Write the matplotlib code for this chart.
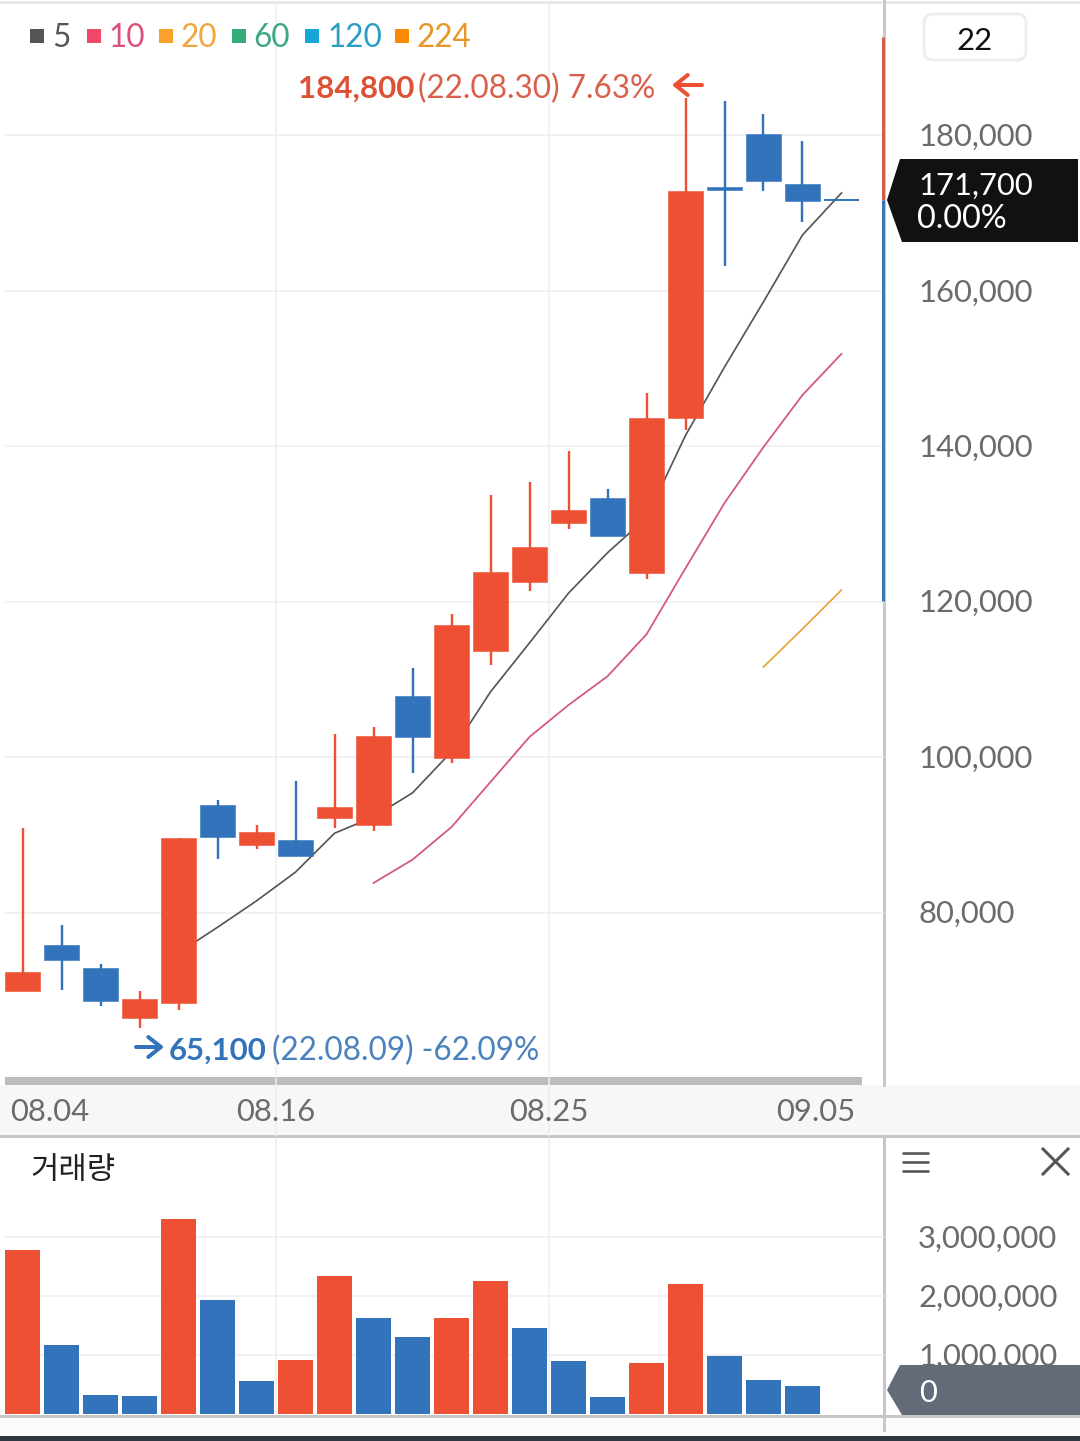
import matplotlib
matplotlib.use("Agg")
import matplotlib.pyplot as plt
from matplotlib.patches import Polygon, FancyBboxPatch, Rectangle
from matplotlib.transforms import ScaledTranslation

plt.rcParams['font.family'] = ['Lato', 'DejaVu Sans']

# candles
opens = [69900, 75800, 72900, 66400, 68400, 93800, 88700, 89300, 92200, 91300, 107900,
         99900, 113700, 122500, 130100, 133300, 123700, 143600, 173400, 180200, 173800, 171700]
closes = [72300, 73900, 68600, 68900, 89600, 89700, 90400, 87300, 93600, 102700, 102600,
          117000, 123800, 127000, 131800, 128500, 143600, 172900, 173000, 174100, 171600, 171700]
highs = [90900, 78400, 73400, 69900, 89600, 94500, 91300, 96900, 103000, 103900, 111500,
         118400, 133700, 135400, 139400, 134500, 146900, 184800, 184500, 182800, 179300, 171700]
lows = [69900, 70000, 68000, 65100, 67500, 86900, 88200, 87300, 90900, 90500, 98000,
        99200, 111900, 121400, 129400, 128500, 122900, 142100, 163200, 172900, 168900, 171700]

# moving averages, first index is where each line starts
ma5 = [74800, 78100, 81500, 85200, 90200, 92300, 95400, 100700, 108400, 114700, 121100,
       126300, 130800, 141400, 150200, 158600, 167200, 172600]
ma5_start = 4
ma10 = [83800, 86800, 91000, 96800, 102600, 106700, 110400, 115800, 124300, 132700,
        139900, 146600, 151900]
ma10_start = 9
ma20 = [111600, 116500, 121500]
ma20_start = 19

# volume per candle, volume_up says whether the bar is red
volumes = [2780000, 1170000, 320000, 305000, 3305000, 1930000, 560000, 915000, 2340000, 1630000, 1300000,
           1630000, 2250000, 1460000, 900000, 290000, 865000, 2200000, 980000, 575000, 475000]
volume_up = [1, 0, 0, 0, 1, 0, 0, 1, 1, 0, 0, 1, 1, 0, 0, 0, 1, 1, 0, 0, 0]

price_ticks = [80000, 100000, 120000, 140000, 160000, 180000]
volume_ticks = [1000000, 2000000, 3000000]
date_labels = ["08.16", "08.25"]
date_pos = [6.5, 13.5]
edge_labels = ["08.04", "09.05"]
edge_pos = [0.7, 20.34]

legend_names = ["5", "10", "20", "60", "120", "224"]
legend_square = ["#555555", "#f0476a", "#f9a32c", "#35ab78", "#15a8d6", "#fb8a05"]
legend_text = ["#555555", "#d9527a", "#f0a63c", "#3ca882", "#2a9fc4", "#e8952a"]

RED = "#ee5033"
BLUE = "#3373bb"
GRID = "#efefef"
LABEL = "#6b6b6b"
W, H = 1080, 1441
PT = 0.72  # one pixel in points at dpi 100
FS = 22.3
NOTE_FS = 22.7
ARROW = "->,head_length=0.45,head_width=0.36"


def add_axes(fig, left, top, right, bottom, zorder):
    ax = fig.add_axes([left / W, 1 - bottom / H, (right - left) / W, (bottom - top) / H])
    ax.set_zorder(zorder)
    ax.patch.set_alpha(0)
    return ax


fig = plt.figure(figsize=(W / 100, H / 100), dpi=100, facecolor="white")
up_1px = ScaledTranslation(0, 1 / 100, fig.dpi_scale_trans)

# page furniture behind the chart, in pixels
bg = add_axes(fig, 0, 0, W, H, 0)
bg.set_xlim(0, W)
bg.set_ylim(H, 0)
bg.axis("off")
bg.add_patch(Rectangle((0, 1085), W, 51, color="#f7f7f7", lw=0))
bg.add_patch(Rectangle((5, 1077), 857, 8, color="#bcbcbc", lw=0))
bg.add_patch(Rectangle((0, 1417), W, 19, color="#fbfbfb", lw=0))
bg.add_patch(Rectangle((0, 1436), W, 5, color="#2f3843", lw=0))
bg.plot([0, W], [2, 2], color="#e8e8e8", lw=3 * PT)
bg.plot([0, W], [1136, 1136], color="#c6c6c6", lw=3 * PT)
bg.plot([0, W], [1416, 1416], color="#c6c6c6", lw=3 * PT)
bg.plot([884, 884], [0, 1085], color="#c8c8c8", lw=3 * PT)
bg.plot([884, 884], [1138, 1430], color="#c8c8c8", lw=3 * PT)
for x in [276, 549]:
    bg.plot([x, x], [1085, 1136], color="#ececec", lw=1.5 * PT)

# price panel
ax = add_axes(fig, 5, 3, 884, 1085, 1)
ax.set_xlim(-0.45, 22.09)
ax.set_ylim(57800, 197050)
for s in ax.spines.values():
    s.set_visible(False)
ax.grid(True, color=GRID, lw=1.5 * PT, zorder=0)
ax.set_axisbelow(True)

for i in range(len(opens)):
    color = RED if closes[i] > opens[i] else BLUE
    edge = 1.4 if closes[i] == opens[i] else 0.4
    ax.plot([i, i], [lows[i], highs[i]], color=color, lw=2.4 * PT, solid_capstyle="butt", zorder=4)
    ax.bar(i, closes[i] - opens[i], bottom=opens[i], width=0.915, color=color,
           edgecolor=color, linewidth=edge, zorder=4)

ax.plot(range(ma5_start, ma5_start + len(ma5)), ma5, color="#555555", lw=1.7 * PT, zorder=3)
ax.plot(range(ma10_start, ma10_start + len(ma10)), ma10, color="#d4587f", lw=1.8 * PT, zorder=3)
ax.plot(range(ma20_start, ma20_start + len(ma20)), ma20, color="#e8a83e", lw=1.8 * PT, zorder=3)

ax.yaxis.tick_right()
ax.set_yticks(price_ticks, [f"{v:,}" for v in price_ticks])
ax.set_xticks(date_pos, date_labels)
ax.set_xticks(edge_pos, edge_labels, minor=True)
ax.tick_params(axis="y", length=0, pad=34 * PT, labelsize=FS, labelcolor=LABEL)
ax.tick_params(axis="x", which="both", length=0, pad=13 * PT, labelsize=FS, labelcolor=LABEL)
for label in ax.get_yticklabels():
    label.set_transform(label.get_transform() + up_1px)

# volume panel
vx = add_axes(fig, 5, 1138, 884, 1414, 1)
vx.set_xlim(-0.45, 22.09)
vx.set_ylim(0, 4678000)
for s in vx.spines.values():
    s.set_visible(False)
vx.grid(True, color=GRID, lw=1.5 * PT, zorder=0)
vx.set_axisbelow(True)
vol_colors = [RED if up else BLUE for up in volume_up]
vx.bar(range(len(volumes)), volumes, width=0.92, color=vol_colors, zorder=3)
vx.yaxis.tick_right()
vx.set_yticks(volume_ticks, [f"{v:,}" for v in volume_ticks])
vx.set_xticks(date_pos, ["", ""])
vx.tick_params(axis="y", length=0, pad=34 * PT, labelsize=FS, labelcolor=LABEL)
vx.tick_params(axis="x", length=0)
for label in vx.get_yticklabels():
    label.set_transform(label.get_transform() + up_1px)

# labels and tags on top
fg = add_axes(fig, 0, 0, W, H, 2)
fg.set_xlim(0, W)
fg.set_ylim(H, 0)
fg.axis("off")

square_x = [30, 87, 159, 232, 305, 395]
text_x = [52, 108, 180, 253, 327, 416]
for i, name in enumerate(legend_names):
    fg.add_patch(Rectangle((square_x[i], 29), 14, 14, color=legend_square[i], lw=0))
    fg.text(text_x[i], 35, name, color=legend_text[i], fontsize=NOTE_FS, va="center_baseline")

fg.text(298, 86, "184,800", color="#dd5236", fontsize=22.5, fontweight="bold", va="center_baseline")
fg.text(418, 86, "(22.08.30) 7.63%", color="#d9604a", fontsize=NOTE_FS, va="center_baseline")
fg.annotate("", xy=(672, 85), xytext=(702, 85),
            arrowprops=dict(arrowstyle=ARROW, color=RED, lw=4 * PT, mutation_scale=20, shrinkA=0, shrinkB=0))

fg.text(169, 1048, "65,100", color=BLUE, fontsize=22.5, fontweight="bold", va="center_baseline")
fg.text(272, 1048, "(22.08.09) -62.09%", color="#4a82bd", fontsize=NOTE_FS, va="center_baseline")
fg.annotate("", xy=(164, 1047), xytext=(136, 1047),
            arrowprops=dict(arrowstyle=ARROW, color=BLUE, lw=4 * PT, mutation_scale=20, shrinkA=0, shrinkB=0))

# high / low range on the axis edge
fg.plot([883, 883], [37, 200], color="#cf5f48", lw=3 * PT, solid_capstyle="butt")
fg.plot([883, 883], [200, 601], color="#3d78b5", lw=3 * PT, solid_capstyle="butt")

fg.add_patch(FancyBboxPatch((924, 14), 102, 46, boxstyle="round,pad=0,rounding_size=9",
                            fc="white", ec="#eeeeee", lw=3 * PT))
fg.text(975, 39, "22", color="#111111", fontsize=FS, ha="center", va="center_baseline")

fg.add_patch(Polygon([(887, 200), (900, 159), (1078, 159), (1078, 242), (902, 242)], color="#111111", lw=0))
fg.text(918, 183, "171,700", color="white", fontsize=FS, va="center_baseline")
fg.text(917, 215.5, "0.00%", color="white", fontsize=23.3, va="center_baseline")

fg.add_patch(Polygon([(887, 1390), (900, 1365), (W, 1365), (W, 1415), (902, 1415)], color="#636b78", lw=0))
fg.text(928, 1390, "0", color="white", fontsize=FS, ha="center", va="center_baseline")

fg.text(30, 1167, "거래량", color="#222222", fontsize=22.2, va="center_baseline",
        family=["Noto Sans CJK KR", "DejaVu Sans"])

# menu and close icons
for y in [1152.5, 1161.5, 1170.5]:
    fg.plot([902, 929], [y, y], color="#555555", lw=2.6 * PT, solid_capstyle="butt")
fg.plot([1043, 1068], [1149, 1174], color="#555555", lw=3 * PT)
fg.plot([1043, 1068], [1174, 1149], color="#555555", lw=3 * PT)

fig.savefig("out.png", dpi=100)
